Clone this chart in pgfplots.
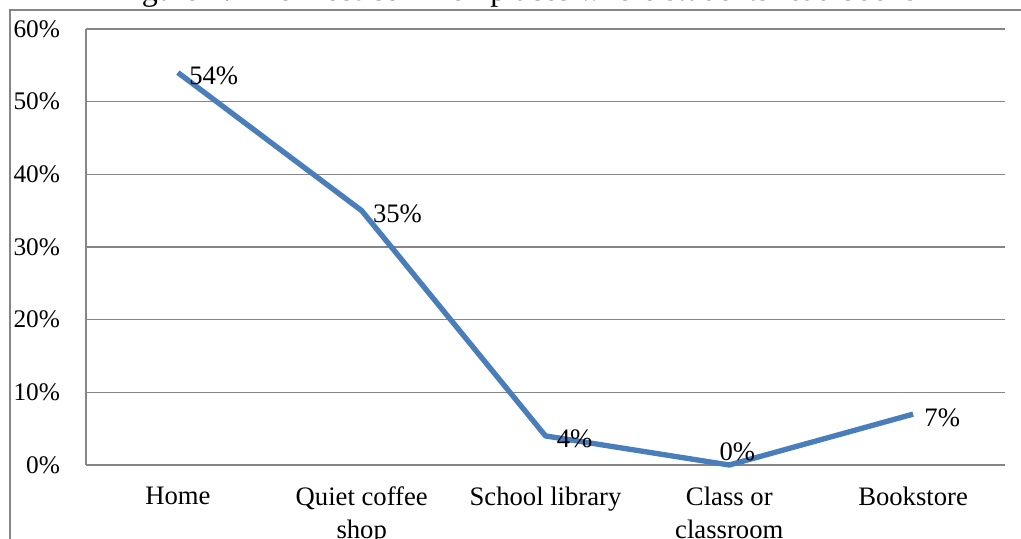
\documentclass[border=0pt]{standalone}
\usepackage{fontspec}
\setmainfont{Liberation Serif}
\usepackage{pgfplots}
\pgfplotsset{compat=1.18}
\definecolor{lineblue}{HTML}{4A7EBB}
\definecolor{gridgray}{HTML}{868686}
\begin{document}
\begin{tikzpicture}
\useasboundingbox (0,0) rectangle (765.75pt,404.25pt);
\draw[gridgray, line width=1pt] (7.5pt,-20pt) rectangle (800pt,396.75pt);
\node[anchor=base, inner sep=0pt, font=\fontsize{24}{28}\selectfont] at (387pt,404.0pt) {Figure 4: The most common places where students read books};
\begin{axis}[
  at={(64.5pt,55.5pt)}, anchor=south west,
  scale only axis, width=689.25pt, height=327pt,
  xmin=-0.5, xmax=4.5, ymin=0, ymax=60,
  xtick={0,1,2,3,4},
  xticklabels={Home,{Quiet coffee\\shop},School library,{Class or\\classroom},Bookstore},
  xticklabel style={align=center, font=\fontsize{20}{24.5}\selectfont, yshift=-13pt},
  ytick={0,10,...,60},
  yticklabel={\pgfmathprintnumber{\tick}\%},
  /pgf/number format/assume math mode=true,
  yticklabel style={font=\fontsize{19}{23}\selectfont, xshift=-16pt},
  ymajorgrids,
  grid style={gridgray, line width=1pt},
  axis x line*=bottom, axis y line*=left,
  axis line style={gridgray, line width=1pt},
  major tick length=0pt,
  tick style={draw=none},
  clip=false,
]
\addplot[lineblue, line width=4pt, line join=round] coordinates {(0,54) (1,35) (2,4) (3,0) (4,7)};
\addplot[draw=none, nodes near coords, point meta=explicit symbolic,
  every node near coord/.append style={anchor=west, xshift=5pt, yshift=-2.5pt, font=\fontsize{20}{24}\selectfont}]
  coordinates {(0,54)[54\%] (1,35)[35\%] (2,4)[4\%] (4,7)[7\%]};
\addplot[draw=none, nodes near coords, point meta=explicit symbolic,
  every node near coord/.append style={anchor=center, xshift=6pt, yshift=10pt, font=\fontsize{20}{24}\selectfont}]
  coordinates {(3,0)[0\%]};
\end{axis}
\end{tikzpicture}
\end{document}
